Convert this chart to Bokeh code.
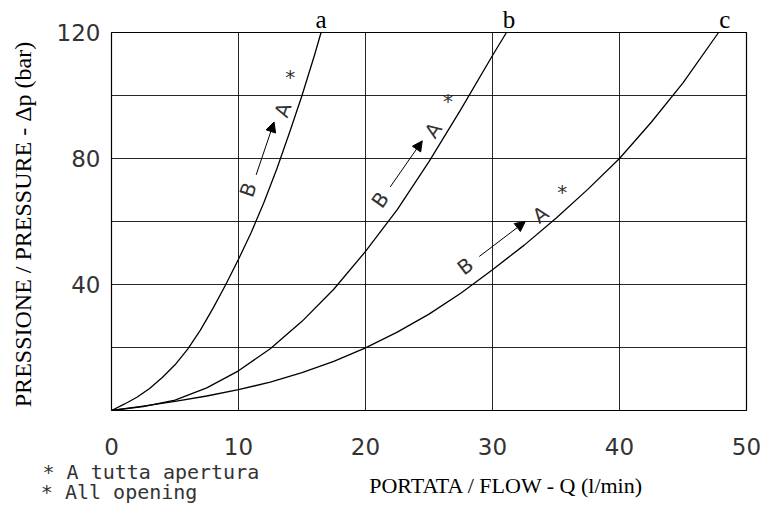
import math
from bokeh.plotting import figure
from bokeh.models import FixedTicker, Label, Arrow, NormalHead, Range1d, LinearAxis
from bokeh.embed import file_html
from bokeh.resources import INLINE

# ---- data: flow Q (l/min) vs pressure drop (bar) ----
q_a = [0, 1, 2, 3, 4, 5, 6, 7, 8, 9, 10, 11, 12, 13, 14, 15, 16, 16.5]
p_a = [0, 2, 4.2, 7, 10.5, 14.5, 19.5, 25.5, 32.5, 40, 48, 56.5, 66, 76.5, 88, 100, 113, 120]

q_b = [0, 2.5, 5, 7.5, 10, 12.5, 15, 17.5, 20, 22.5, 25, 27.5, 30, 31.1]
p_b = [0, 1.2, 3.3, 7.2, 12.6, 19.6, 28.3, 38.5, 50.5, 63.8, 79, 95.5, 112.7, 120]

q_c = [0, 2.5, 5, 7.5, 10, 12.5, 15, 17.5, 20, 22.5, 25, 27.5, 30, 32.5, 35, 37.5, 40, 42.5, 45, 47.8]
p_c = [0, 1.4, 2.9, 4.6, 6.6, 9.0, 12.0, 15.6, 19.9, 24.9, 30.6, 37.2, 44.7, 52.5, 61, 70.2, 80, 91.5, 104, 120]

curve_names = ["a", "b", "c"]
curve_name_q = [16.5, 31.3, 48.3]
x_ticks = [0, 10, 20, 30, 40, 50]
y_ticks = [40, 80, 120]
x_grid = [10, 20, 30, 40]
y_grid = [20, 40, 60, 80, 100]

x_title = "PORTATA / FLOW - Q (l/min)"
y_title = "PRESSIONE / PRESSURE -  \u0394p (bar)"
note_1 = "* A tutta apertura"
note_2 = "* All opening"

# annotation positions (B -> A *), in data units
ann_B = [(10.76, 70.1), (21.16, 66.9), (27.86, 45.8)]
ann_arrow = [((11.39, 74.8), (12.8, 91.6)), ((21.95, 71.0), (24.47, 85.6)), ((28.96, 48.9), (32.58, 60.0))]
ann_A = [(13.5, 95.4), (25.33, 89.0), (33.77, 62.2)]
ann_star = [(14.07, 105.8), (26.5, 98.2), (35.5, 69.5)]
ann_angle_deg = [71, 55, 37]

CAD = "DejaVu Sans"
MONO = "DejaVu Sans Mono"
SERIF = "Liberation Serif"
INK = "#333333"

p = figure(width=772, height=506, output_backend="svg", toolbar_location=None,
           x_range=Range1d(0, 50), y_range=Range1d(0, 120),
           min_border_left=111, min_border_right=26, min_border_top=32, min_border_bottom=10)
p.background_fill_color = "white"
p.border_fill_color = "white"
p.outline_line_color = "black"
p.outline_line_width = 1.2


def plain_axis(ax, font, size, standoff, color=INK):
    ax.axis_line_color = None
    ax.major_tick_line_color = None
    ax.minor_tick_line_color = None
    ax.major_tick_out = 0
    ax.major_tick_in = 0
    ax.minor_tick_out = 0
    ax.major_label_text_font = font
    ax.major_label_text_font_size = size
    ax.major_label_text_color = color
    ax.major_label_standoff = standoff


p.xaxis.ticker = FixedTicker(ticks=x_ticks)
p.yaxis.ticker = FixedTicker(ticks=y_ticks)
plain_axis(p.xaxis[0], CAD, "23px", 27)
plain_axis(p.yaxis[0], CAD, "23px", 11)
p.yaxis.axis_label = y_title
p.yaxis.axis_label_text_font = SERIF
p.yaxis.axis_label_text_font_style = "normal"
p.yaxis.axis_label_text_font_size = "24px"
p.yaxis.axis_label_text_color = "black"
p.yaxis.axis_label_standoff = 18

# extra below axes carrying the footnote and the x title
ax_n1 = LinearAxis(ticker=FixedTicker(ticks=[3.1]), major_label_overrides={3.1: note_1})
plain_axis(ax_n1, MONO, "20px", 2)
p.add_layout(ax_n1, "below")

ax_t = LinearAxis(ticker=FixedTicker(ticks=[31.1]), major_label_overrides={31.1: x_title})
plain_axis(ax_t, SERIF, "22px", -14, color="black")
p.add_layout(ax_t, "below")

ax_n2 = LinearAxis(ticker=FixedTicker(ticks=[0.6]), major_label_overrides={0.6: note_2})
plain_axis(ax_n2, MONO, "20px", -21)
p.add_layout(ax_n2, "below")

# curve names above the frame
ax_names = LinearAxis(ticker=FixedTicker(ticks=curve_name_q),
                      major_label_overrides={q: n for q, n in zip(curve_name_q, curve_names)})
plain_axis(ax_names, SERIF, "25px", 0, color="black")
p.add_layout(ax_names, "above")

p.xgrid.ticker = FixedTicker(ticks=x_grid)
p.ygrid.ticker = FixedTicker(ticks=y_grid)
for g in (p.xgrid[0], p.ygrid[0]):
    g.grid_line_color = "black"
    g.grid_line_width = 1
    g.grid_line_alpha = 0.85

for qs, ps in ((q_a, p_a), (q_b, p_b), (q_c, p_c)):
    p.line(qs, ps, line_color="black", line_width=1.3, line_join="round")

for i in range(3):
    ang = math.radians(ann_angle_deg[i])
    bx, by = ann_B[i]
    p.add_layout(Label(x=bx, y=by, text="B", angle=ang, text_align="center", text_baseline="middle",
                       text_font=CAD, text_font_size="20px", text_color=INK))
    ax_, ay_ = ann_A[i]
    p.add_layout(Label(x=ax_, y=ay_, text="A", angle=ang, text_align="center", text_baseline="middle",
                       text_font=CAD, text_font_size="20px", text_color=INK))
    sx, sy = ann_star[i]
    p.add_layout(Label(x=sx, y=sy, text="*", angle=0, text_align="center", text_baseline="middle",
                       text_font=CAD, text_font_size="20px", text_color=INK))
    (x0, y0), (x1, y1) = ann_arrow[i]
    p.add_layout(Arrow(x_start=x0, y_start=y0, x_end=x1, y_end=y1, line_width=1, line_color="black",
                       end=NormalHead(size=10, fill_color="black", line_color="black")))

open("out.html", "w").write(file_html(p, INLINE))
